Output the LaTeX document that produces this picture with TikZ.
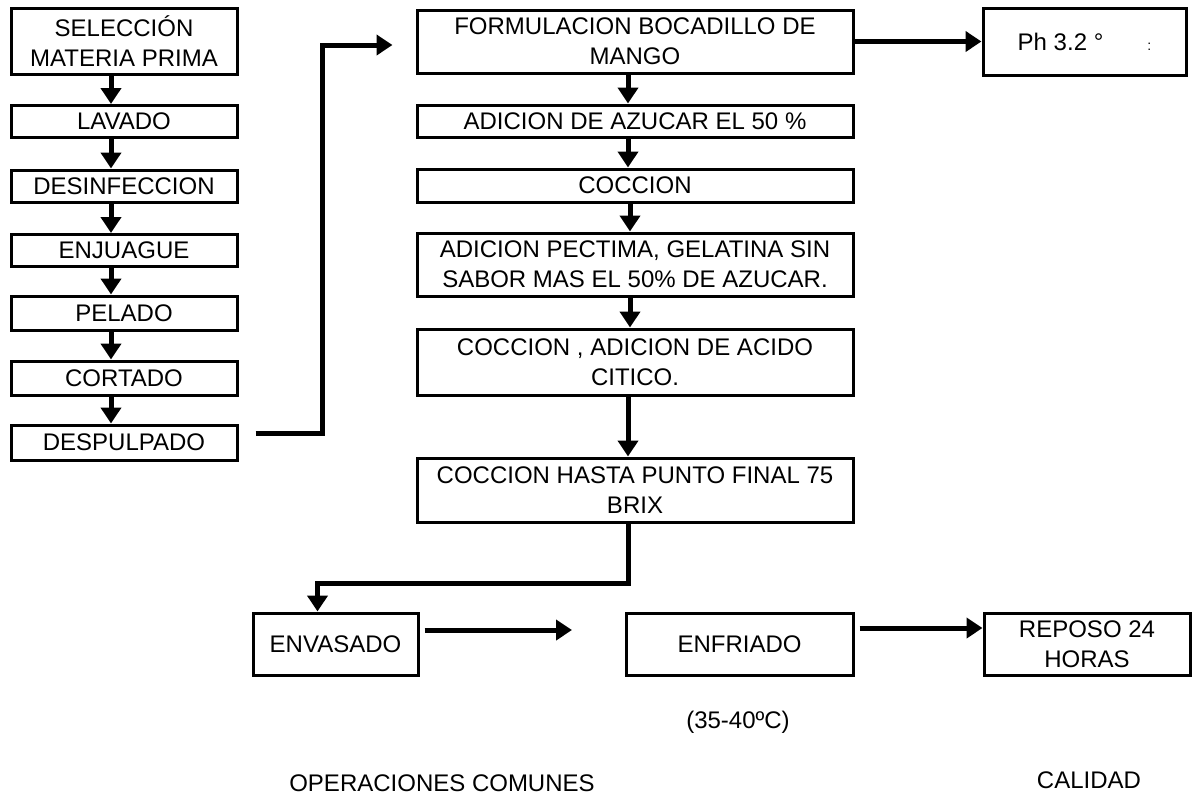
\documentclass[tikz,border=0pt]{standalone}
\usepackage{fontspec}
\setmainfont{Liberation Sans}
\usetikzlibrary{arrows.meta}
\begin{document}
\begin{tikzpicture}[x=1pt, y=-1pt,
        caja/.style = {draw, line width=3pt, inner sep=0pt, align=center, font=\fontsize{24}{30}\selectfont},
        texto/.style = {inner sep=0pt, font=\fontsize{24}{30}\selectfont},
        flecha/.style = {line width=5pt, -{Triangle[width=20pt, length=16pt]}}]
        \useasboundingbox (0,0) rectangle (1192,796);
        \node[caja, minimum width=226pt, minimum height=66pt] (sel) at (124,41) {SELECCIÓN\\MATERIA PRIMA};
        \node[caja, minimum width=226pt, minimum height=32pt] (lav) at (124,121.5) {LAVADO};
        \node[caja, minimum width=226pt, minimum height=32pt] (des) at (124,186) {DESINFECCION};
        \node[caja, minimum width=226pt, minimum height=32pt] (enj) at (124,250.5) {ENJUAGUE};
        \node[caja, minimum width=226pt, minimum height=34pt] (pel) at (124,313) {PELADO};
        \node[caja, minimum width=226pt, minimum height=34pt] (cor) at (124,378) {CORTADO};
        \node[caja, minimum width=226pt, minimum height=35pt] (desp) at (124,442.5) {DESPULPADO};
        \node[caja, minimum width=436pt, minimum height=63pt] (form) at (635,41.5) {FORMULACION BOCADILLO DE\\MANGO};
        \node[caja, minimum width=436pt, minimum height=32pt] (azu) at (635,121) {ADICION DE AZUCAR EL 50 \%};
        \node[caja, minimum width=436pt, minimum height=33pt] (coc) at (635,185.5) {COCCION};
        \node[caja, minimum width=436pt, minimum height=63pt] (pec) at (635,264.5) {ADICION PECTIMA, GELATINA SIN\\SABOR MAS EL 50\% DE AZUCAR.};
        \node[caja, minimum width=436pt, minimum height=66pt] (aci) at (635,362) {COCCION , ADICION DE ACIDO\\CITICO.};
        \node[caja, minimum width=436pt, minimum height=64pt] (pun) at (635,490) {COCCION HASTA PUNTO FINAL 75\\BRIX};
        \node[caja, minimum width=203pt, minimum height=67pt] (ph) at (1084.5,41.5) {Ph 3.2 °\hspace{44pt}{\fontsize{14}{16}\selectfont :}};
        \node[caja, minimum width=165pt, minimum height=62pt] (env) at (335.5,644) {ENVASADO};
        \node[caja, minimum width=227pt, minimum height=62pt] (enf) at (739.5,644) {ENFRIADO};
        \node[caja, minimum width=206pt, minimum height=62pt] (rep) at (1087,644) {REPOSO 24\\HORAS};
        \node[texto] (temp) at (738,722) {(35-40ºC)};
        \node[texto] (comunes) at (442,783) {OPERACIONES COMUNES};
        \node[texto] (calidad) at (1089,780) {CALIDAD};
        \coordinate (envfin) at (572,630);
        \draw[flecha] ([xshift=-13pt]sel.south) -- ([xshift=-13pt]lav.north);
        \draw[flecha] ([xshift=-13pt]lav.south) -- ([xshift=-13pt]des.north);
        \draw[flecha] ([xshift=-13pt]des.south) -- ([xshift=-13pt]enj.north);
        \draw[flecha] ([xshift=-13pt]enj.south) -- ([xshift=-13pt]pel.north);
        \draw[flecha] ([xshift=-13pt]pel.south) -- ([xshift=-13pt]cor.north);
        \draw[flecha] ([xshift=-13pt]cor.south) -- ([xshift=-13pt]desp.north);
        \draw[flecha] ([xshift=17pt,yshift=9pt]desp.east) -- ++(67,0) |- ([xshift=-23pt,yshift=-3.5pt]form.west);
        \draw[flecha] (form.east) -- (ph.west);
        \draw[flecha] ([xshift=-7pt]form.south) -- ([xshift=-7pt]azu.north);
        \draw[flecha] ([xshift=-7pt]azu.south) -- ([xshift=-7pt]coc.north);
        \draw[flecha] ([xshift=-5pt]coc.south) -- ([xshift=-5pt]pec.north);
        \draw[flecha] ([xshift=-5pt]pec.south) -- ([xshift=-5pt]aci.north);
        \draw[flecha] ([xshift=-7pt]aci.south) -- ([xshift=-7pt]pun.north);
        \draw[flecha] ([xshift=-7pt]pun.south) -- ++(0,60) -| ([xshift=-18pt]env.north);
        \draw[flecha] ([xshift=5pt,yshift=14pt]env.east) -- (envfin);
        \draw[flecha] ([xshift=5pt,yshift=16pt]enf.east) -- ([yshift=16pt]rep.west);
\end{tikzpicture}
\end{document}
